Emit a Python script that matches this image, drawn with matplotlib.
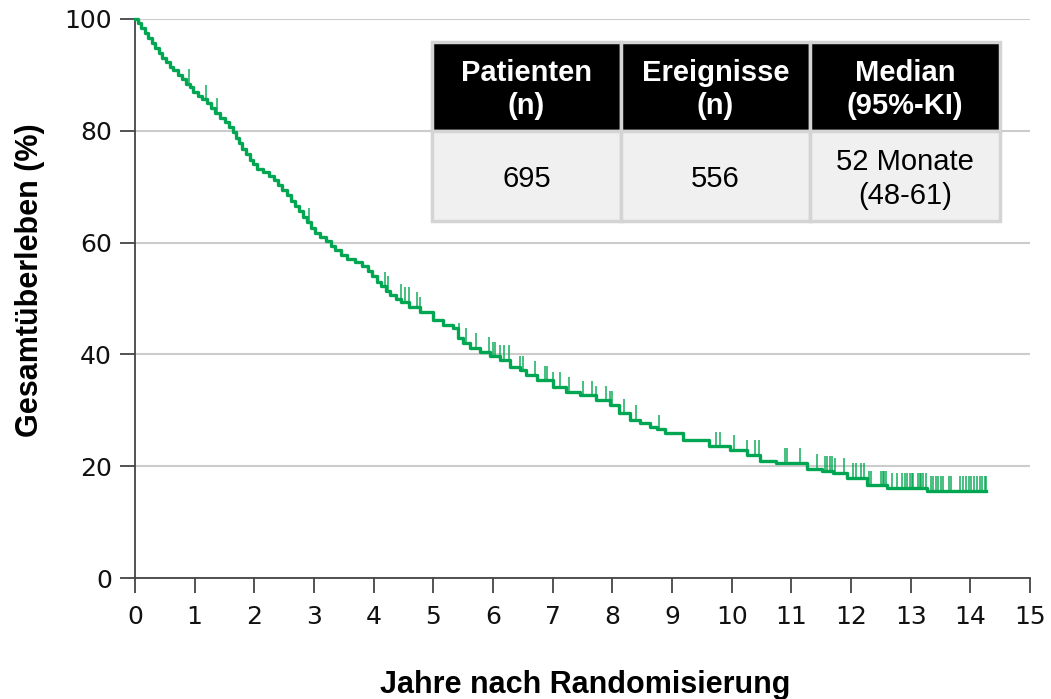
import numpy as np
import matplotlib
matplotlib.use("Agg")
import matplotlib.pyplot as plt
from matplotlib.patches import Rectangle

# Kaplan-Meier Stufen (Jahre, Ueberleben in %)
step_years = [0.00, 0.05, 0.10, 0.16, 0.22, 0.28, 0.34, 0.40, 0.46, 0.52, 0.58, 0.64,
              0.72, 0.78, 0.85, 0.92, 0.98, 1.05, 1.12, 1.20, 1.27, 1.34, 1.42, 1.50,
              1.57, 1.64, 1.70, 1.75, 1.80, 1.86, 1.92, 1.98, 2.05, 2.15, 2.25, 2.33,
              2.40, 2.47, 2.55, 2.62, 2.68, 2.75, 2.82, 2.88, 2.95, 3.02, 3.10, 3.20,
              3.28, 3.36, 3.45, 3.55, 3.68, 3.80, 3.90, 3.98, 4.05, 4.12, 4.20, 4.28,
              4.38, 4.46, 4.60, 4.77, 5.00, 5.16, 5.33, 5.42, 5.50, 5.61, 5.78, 5.95,
              6.11, 6.28, 6.45, 6.56, 6.73, 7.01, 7.23, 7.45, 7.73, 7.96, 8.12, 8.29,
              8.46, 8.63, 8.75, 8.88, 9.18, 9.62, 9.98, 10.25, 10.47, 10.75, 11.27,
              11.52, 11.69, 11.93, 12.26, 12.60, 13.28]
step_surv = [100.0, 99.3, 98.4, 97.5, 96.6, 95.7, 94.8, 93.9, 93.0, 92.3, 91.5, 90.9,
             90.0, 89.2, 88.4, 87.8, 87.0, 86.3, 85.6, 84.9, 84.0, 83.2, 82.3, 81.5,
             80.6, 79.8, 78.8, 77.8, 76.8, 75.8, 74.8, 74.0, 73.2, 72.6, 72.0, 71.2,
             70.3, 69.4, 68.5, 67.5, 66.5, 65.6, 64.6, 63.6, 62.6, 61.8, 61.0, 60.2,
             59.4, 58.6, 57.8, 57.0, 56.5, 55.8, 55.0, 54.0, 53.0, 52.2, 51.4, 50.6,
             50.0, 49.4, 48.5, 47.6, 46.2, 45.3, 44.7, 43.0, 42.1, 41.2, 40.5, 39.7,
             39.0, 37.8, 37.2, 36.3, 35.4, 34.2, 33.3, 32.7, 31.8, 30.9, 29.5, 28.3,
             27.7, 27.1, 26.6, 25.9, 24.7, 23.6, 22.9, 22.0, 21.0, 20.6, 19.5,
             19.2, 18.8, 17.9, 16.6, 16.1, 15.6]
end_year = 14.27

# Zensierungen (Jahre)
censor_years = [0.91, 1.19, 1.38, 2.92, 4.19, 4.24, 4.45, 4.52, 4.59, 4.73, 4.77,
                5.43, 5.54, 5.72, 5.93, 6.00, 6.03, 6.11, 6.18, 6.27, 6.46, 6.50,
                6.70, 6.87, 6.90, 7.01, 7.13, 7.27, 7.51, 7.66, 7.73, 7.90, 7.96,
                8.00, 8.19, 8.39, 8.78, 9.74, 9.80, 10.04, 10.26, 10.39, 10.46,
                10.90, 10.93, 11.14, 11.43, 11.57, 11.60, 11.64, 11.68, 11.74,
                11.89, 12.03, 12.08, 12.16, 12.21, 12.30, 12.34, 12.51, 12.53,
                12.56, 12.59, 12.69, 12.77, 12.86, 12.90, 12.94, 12.99, 13.02,
                13.04, 13.12, 13.15, 13.18, 13.21, 13.25, 13.34, 13.38, 13.42,
                13.46, 13.50, 13.54, 13.64, 13.68, 13.82, 13.87, 13.92, 13.97,
                14.01, 14.06, 14.11, 14.16, 14.20, 14.24, 14.27]

table_header = ["Patienten\n(n)", "Ereignisse\n(n)", "Median\n(95%-KI)"]
table_values = ["695", "556", "52 Monate\n(48-61)"]

x_ticks = list(range(0, 16))
y_ticks = [0, 20, 40, 60, 80, 100]

green = "#00a651"
W, H = 1051, 699

fig = plt.figure(figsize=(W / 100, H / 100), dpi=100)
ax = fig.add_axes([135 / W, 1 - 578 / H, (1030 - 135) / W, (578 - 19) / H])

xs = step_years + [end_year]
ys = step_surv + [step_surv[-1]]
ax.step(xs, ys, where="post", color=green, lw=2.4, clip_on=False, zorder=3)

idx = np.searchsorted(step_years, censor_years, side="right") - 1
c_surv = np.array(step_surv)[idx]
ax.vlines(censor_years, c_surv, c_surv + 2.6, color=green, lw=1.2, alpha=0.85, zorder=3)

ax.set_xlim(0, 15)
ax.set_ylim(0, 100)
ax.set_xticks(x_ticks)
ax.set_yticks(y_ticks)
ax.yaxis.grid(True, color="#cccccc", lw=1.5)
ax.set_axisbelow(True)
for s in ["top", "right"]:
    ax.spines[s].set_visible(False)
for s in ["left", "bottom"]:
    ax.spines[s].set_color("#444444")
    ax.spines[s].set_linewidth(1.3)
ax.tick_params(axis="both", colors="#444444", width=1.3, length=10.5,
               labelcolor="#111111", labelsize=18)
ax.tick_params(axis="x", pad=9)
ax.tick_params(axis="y", pad=6)
for lab in ax.get_xticklabels() + ax.get_yticklabels():
    lab.set_family("DejaVu Sans")

fig.text(30 / W, 1 - 280 / H, "Gesamtüberleben (%)", rotation=90, ha="center",
         va="center", fontsize=22, fontweight="bold", family="Liberation Sans")
fig.text(585 / W, 1 - 685 / H, "Jahre nach Randomisierung", ha="center",
         va="center", fontsize=22, fontweight="bold", family="Liberation Sans")

# Tabelle oben rechts
col_edges = [432, 621, 810, 1000]
row_edges = [42, 131, 221]
for i in range(3):
    x0, x1 = col_edges[i], col_edges[i + 1]
    for r, (fc, txt, tc, fw) in enumerate([("black", table_header[i], "white", "bold"),
                                           ("#f0f0f0", table_values[i], "black", "normal")]):
        y0, y1 = row_edges[r], row_edges[r + 1]
        fig.add_artist(Rectangle((x0 / W, 1 - y1 / H), (x1 - x0) / W, (y1 - y0) / H,
                                 transform=fig.transFigure, facecolor=fc,
                                 edgecolor="#d4d4d4", lw=2.5, zorder=5))
        fig.text((x0 + x1) / 2 / W, 1 - ((y0 + y1) / 2 + 3) / H, txt, ha="center",
                 va="center", color=tc, fontsize=21, fontweight=fw,
                 family="Liberation Sans", linespacing=1.25, zorder=6)

fig.savefig("out.png", dpi=100)
